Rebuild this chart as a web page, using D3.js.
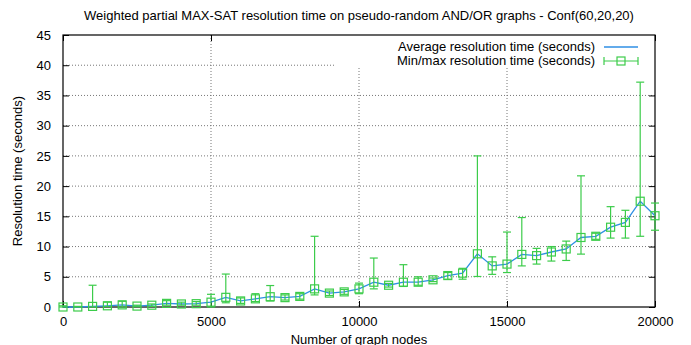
<!DOCTYPE html>
<html>
<head>
<meta charset="utf-8">
<script src="https://cdn.jsdelivr.net/npm/d3@7"></script>
<style>
  body { margin: 0; background: #fff; }
  svg { font-family: "Liberation Sans", Arial, sans-serif; }
</style>
</head>
<body>
<svg id="chart" width="691" height="345"></svg>
<script>
// graph size (number of nodes)
const nodes = [0, 500, 1000, 1500, 2000, 2500, 3000, 3500, 4000, 4500,
  5000, 5500, 6000, 6500, 7000, 7500, 8000, 8500, 9000, 9500,
  10000, 10500, 11000, 11500, 12000, 12500, 13000, 13500, 14000, 14500,
  15000, 15500, 16000, 16500, 17000, 17500, 18000, 18500, 19000, 19500, 20000];
// average resolution time (s)
const avgTime = [0.0, 0.0, 0.1, 0.2, 0.35, 0.15, 0.3, 0.6, 0.5, 0.55,
  0.8, 1.6, 1.0, 1.35, 1.7, 1.55, 1.75, 3.0, 2.3, 2.5,
  3.0, 4.1, 3.6, 4.1, 4.1, 4.5, 5.2, 5.6, 8.8, 6.8,
  7.1, 8.7, 8.5, 9.1, 9.6, 11.5, 11.7, 13.2, 14.0, 17.5, 15.1];
const minTime = [0.0, 0.0, 0.0, 0.05, 0.0, 0.05, 0.1, 0.3, 0.3, 0.3,
  0.0, 0.7, 0.6, 0.9, 1.0, 1.15, 1.3, 2.0, 1.9, 2.1,
  2.2, 3.0, 3.3, 3.4, 3.6, 4.2, 4.6, 4.6, 5.05, 5.4,
  5.7, 6.8, 7.1, 7.6, 7.7, 8.75, 11.2, 11.4, 11.4, 11.7, 12.7];
const maxTime = [0.2, 0.1, 3.6, 0.8, 0.95, 0.3, 0.5, 1.05, 0.8, 0.9,
  2.1, 5.45, 1.5, 2.2, 3.55, 2.0, 2.2, 11.7, 2.65, 2.9,
  3.95, 8.1, 3.9, 7.0, 5.0, 4.8, 5.7, 6.4, 25.0, 8.3,
  12.4, 14.8, 9.7, 10.0, 10.9, 21.7, 12.2, 16.6, 16.0, 37.2, 17.2];

const xTicks = [0, 5000, 10000, 15000, 20000];
const yTicks = [0, 5, 10, 15, 20, 25, 30, 35, 40, 45];
const legendLabels = ["Average resolution time (seconds)", "Min/max resolution time (seconds)"];

const blue = "#2f8fe4", green = "#3ccc4a";
const margin = { top: 35, right: 36, bottom: 38, left: 63 };
const width = 691 - margin.left - margin.right;
const height = 345 - margin.top - margin.bottom;

const data = nodes.map((n, i) => ({ n: n, avg: avgTime[i], lo: minTime[i], hi: maxTime[i] }));

const svg = d3.select("#chart");
const g = svg.append("g").attr("transform", "translate(" + margin.left + "," + margin.top + ")");

const x = d3.scaleLinear().domain([0, 20000]).range([0, width]);
const y = d3.scaleLinear().domain([0, 45]).range([height, 0]);

// grid lines
g.append("g")
  .selectAll("line")
  .data(xTicks.slice(1, -1))
  .enter().append("line")
  .attr("x1", d => x(d)).attr("x2", d => x(d))
  .attr("y1", 0).attr("y2", height)
  .attr("stroke", "#777").attr("stroke-dasharray", "1,2");
g.append("g")
  .selectAll("line")
  .data(yTicks.slice(1, -1))
  .enter().append("line")
  .attr("x1", 0).attr("x2", width)
  .attr("y1", d => y(d)).attr("y2", d => y(d))
  .attr("stroke", "#777").attr("stroke-dasharray", "1,2");

// axes, ticks drawn inward and mirrored
const tickLen = 6;
g.append("g")
  .attr("transform", "translate(0," + height + ")")
  .call(d3.axisBottom(x).tickValues(xTicks).tickSize(-tickLen).tickPadding(10).tickFormat(d3.format("d")))
  .call(a => a.select(".domain").remove());
g.append("g")
  .call(d3.axisTop(x).tickValues(xTicks).tickSize(-tickLen).tickFormat(""))
  .call(a => a.select(".domain").remove());
g.append("g")
  .call(d3.axisLeft(y).tickValues(yTicks).tickSize(-tickLen).tickPadding(12))
  .call(a => a.select(".domain").remove());
g.append("g")
  .attr("transform", "translate(" + width + ",0)")
  .call(d3.axisRight(y).tickValues(yTicks).tickSize(-tickLen).tickFormat(""))
  .call(a => a.select(".domain").remove());
g.selectAll(".tick text").attr("font-size", 13).attr("fill", "#000")
  .attr("font-family", "Liberation Sans, Arial, sans-serif");
g.selectAll(".tick line").attr("stroke", "#000");

// legend background hides the grid behind it
g.append("rect")
  .attr("x", 272).attr("y", 0).attr("width", width - 272).attr("height", 32)
  .attr("fill", "#fff");

// border
g.append("rect")
  .attr("width", width).attr("height", height)
  .attr("fill", "none").attr("stroke", "#000").attr("stroke-width", 1.2);

// average line
const line = d3.line().x(d => x(d.n)).y(d => y(d.avg));
g.append("path")
  .datum(data)
  .attr("d", line)
  .attr("fill", "none")
  .attr("stroke", blue)
  .attr("stroke-width", 1.3);

// min/max error bars
const cap = 4, sq = 4;
const bars = g.append("g").attr("stroke", green).attr("fill", "none").attr("stroke-width", 1.2);
const eb = bars.selectAll("g").data(data).enter().append("g");
eb.append("line")
  .attr("x1", d => x(d.n)).attr("x2", d => x(d.n))
  .attr("y1", d => y(d.lo)).attr("y2", d => y(d.hi));
eb.append("line")
  .attr("x1", d => x(d.n) - cap).attr("x2", d => x(d.n) + cap)
  .attr("y1", d => y(d.hi)).attr("y2", d => y(d.hi));
eb.append("line")
  .attr("x1", d => x(d.n) - cap).attr("x2", d => x(d.n) + cap)
  .attr("y1", d => y(d.lo)).attr("y2", d => y(d.lo));
eb.append("rect")
  .attr("x", d => x(d.n) - sq).attr("y", d => y(d.avg) - sq)
  .attr("width", sq * 2).attr("height", sq * 2);

// legend
const lg = g.append("g").attr("font-size", 13);
lg.append("text").attr("x", 532).attr("y", 16).attr("text-anchor", "end").text(legendLabels[0]);
lg.append("text").attr("x", 532).attr("y", 30).attr("text-anchor", "end").text(legendLabels[1]);
lg.append("line").attr("x1", 541).attr("x2", 575).attr("y1", 12).attr("y2", 12)
  .attr("stroke", blue).attr("stroke-width", 1.5);
const lg2 = lg.append("g").attr("stroke", green).attr("fill", "none").attr("stroke-width", 1.2);
lg2.append("line").attr("x1", 541).attr("x2", 575).attr("y1", 26).attr("y2", 26);
lg2.append("line").attr("x1", 541).attr("x2", 541).attr("y1", 22).attr("y2", 30);
lg2.append("line").attr("x1", 575).attr("x2", 575).attr("y1", 22).attr("y2", 30);
lg2.append("rect").attr("x", 558 - sq).attr("y", 26 - sq).attr("width", sq * 2).attr("height", sq * 2);

// titles
svg.append("text")
  .attr("x", margin.left + width / 2).attr("y", 20)
  .attr("text-anchor", "middle").attr("font-size", 13)
  .text("Weighted partial MAX-SAT resolution time on pseudo-random AND/OR graphs - Conf(60,20,20)");
svg.append("text")
  .attr("x", margin.left + width / 2).attr("y", 344)
  .attr("text-anchor", "middle").attr("font-size", 13)
  .text("Number of graph nodes");
svg.append("text")
  .attr("transform", "translate(22," + (margin.top + height / 2) + ") rotate(-90)")
  .attr("text-anchor", "middle").attr("font-size", 13)
  .text("Resolution time (seconds)");
</script>
</body>
</html>
